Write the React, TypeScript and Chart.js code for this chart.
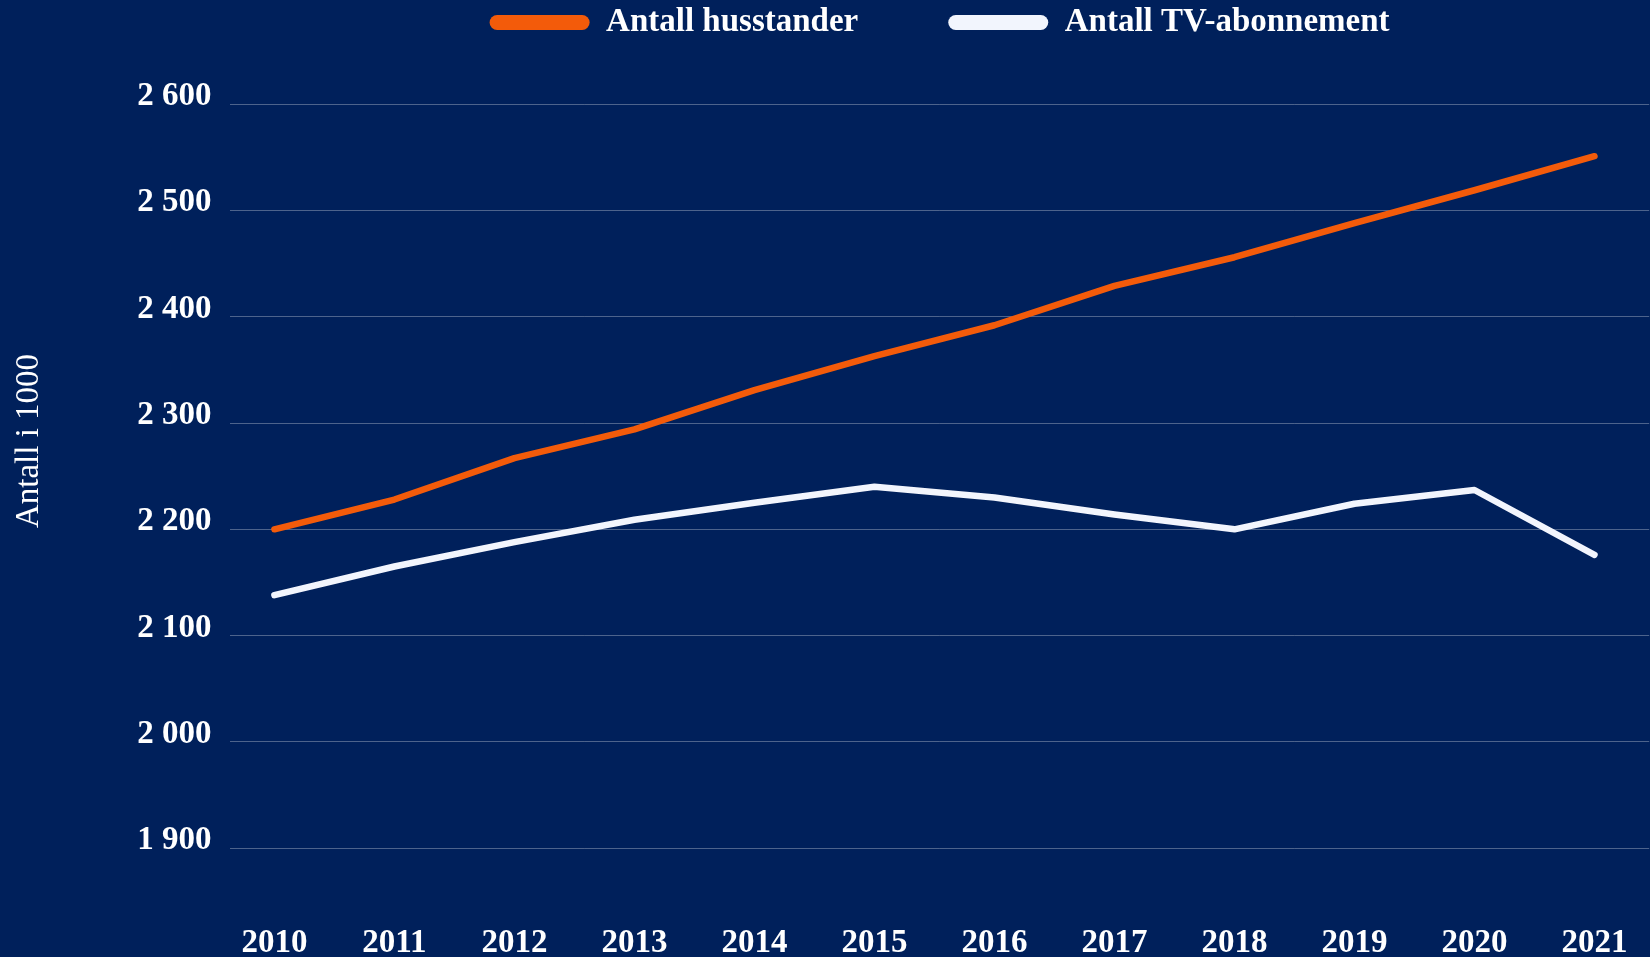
import React, { useEffect, useRef } from "react";
import { Chart, registerables } from "chart.js";

Chart.register(...registerables);

const years = [2010, 2011, 2012, 2013, 2014, 2015, 2016, 2017, 2018, 2019, 2020, 2021];
const husstander = [2200, 2228, 2267, 2294, 2331, 2363, 2392, 2429, 2456, 2488, 2519, 2551];
const tvAbonnement = [2138, 2165, 2188, 2209, 2225, 2240, 2230, 2214, 2200, 2224, 2237, 2176];
const yTicks = [1900, 2000, 2100, 2200, 2300, 2400, 2500, 2600];
const seriesLabels = ["Antall husstander", "Antall TV-abonnement"];
const yTitle = "Antall i 1000";

const BG = "#00205b";
const ORANGE = "#f35b0a";
const WHITE = "#f2f5fd";
const FONT = "'Liberation Serif', 'DejaVu Serif', serif";

const fmt = (v: number) => {
  const th = Math.floor(v / 1000);
  const rest = String(v % 1000).padStart(3, "0");
  return `${th} ${rest}`;
};

export default function App() {
  const ref = useRef<HTMLCanvasElement | null>(null);

  useEffect(() => {
    if (!ref.current) return;
    const bgPlugin = {
      id: "bg",
      beforeDraw(chart: any) {
        const { ctx, width, height } = chart;
        ctx.save();
        ctx.fillStyle = BG;
        ctx.fillRect(0, 0, width, height);
        ctx.restore();
      },
      afterDraw(chart: any) {
        const { ctx } = chart;
        ctx.save();
        ctx.translate(29, 441);
        ctx.rotate(-Math.PI / 2);
        ctx.font = `normal 33px ${FONT}`;
        ctx.fillStyle = "#ffffff";
        ctx.textAlign = "center";
        ctx.textBaseline = "middle";
        ctx.fillText(yTitle, 0, 0);
        ctx.restore();
      },
    };

    const chart = new Chart(ref.current, {
      type: "line",
      data: {
        datasets: [
          {
            label: seriesLabels[0],
            data: years.map((x, i) => ({ x, y: husstander[i] })),
            borderColor: ORANGE,
            backgroundColor: ORANGE,
            borderWidth: 6.5,
            pointRadius: 0,
            tension: 0,
            borderCapStyle: "round",
            borderJoinStyle: "round",
          },
          {
            label: seriesLabels[1],
            data: years.map((x, i) => ({ x, y: tvAbonnement[i] })),
            borderColor: WHITE,
            backgroundColor: WHITE,
            borderWidth: 6.5,
            pointRadius: 0,
            tension: 0,
            borderCapStyle: "round",
            borderJoinStyle: "round",
          },
        ],
      },
      options: {
        animation: false,
        responsive: true,
        maintainAspectRatio: false,
        devicePixelRatio: 1,
        layout: { padding: { top: -84, left: 0, right: 0, bottom: 0 } },
        plugins: {
          tooltip: { enabled: false },
          legend: {
            display: true,
            position: "top",
            fullSize: false,
            labels: {
              color: "#ffffff",
              font: { family: FONT, size: 33, weight: "bold" },
              boxWidth: 100,
              boxHeight: 15,
              useBorderRadius: true,
              borderRadius: 7.5,
              padding: 90,
              generateLabels: (chart: any) =>
                Chart.defaults.plugins.legend.labels
                  .generateLabels(chart)
                  .map((l: any) => ({ ...l, lineWidth: 0 })),
            },
          },
        },
        scales: {
          x: {
            type: "linear",
            min: 2009.63,
            max: 2021.456,
            grid: { display: false, drawTicks: false },
            border: { display: false },
            afterBuildTicks: (scale: any) => {
              scale.ticks = years.map((v) => ({ value: v }));
            },
            afterFit: (scale: any) => {
              scale.height = 56;
            },
            ticks: {
              color: "#ffffff",
              font: { family: FONT, size: 33, weight: "bold" },
              padding: 22.5,
              maxRotation: 0,
              autoSkip: false,
              callback: (v: any) => String(v),
            },
          },
          y: {
            min: 1850.3,
            max: 2651.9,
            grid: {
              color: "rgba(255,255,255,0.3)",
              lineWidth: 1,
              drawTicks: false,
            },
            border: { display: false },
            afterBuildTicks: (scale: any) => {
              scale.ticks = yTicks.map((v) => ({ value: v }));
            },
            afterFit: (scale: any) => {
              scale.width = 230;
            },
            ticks: {
              color: "#ffffff",
              font: { family: FONT, size: 33, weight: "bold" },
              padding: 18.5,
              labelOffset: -7.5,
              callback: (v: any) => fmt(Number(v)),
            },
          },
        },
      },
      plugins: [bgPlugin],
    } as any);

    return () => chart.destroy();
  }, []);

  return (
    <div
      style={{
        position: "fixed",
        left: 0,
        top: 0,
        width: 1650,
        height: 957,
        background: BG,
      }}
    >
      <canvas ref={ref} />
    </div>
  );
}
